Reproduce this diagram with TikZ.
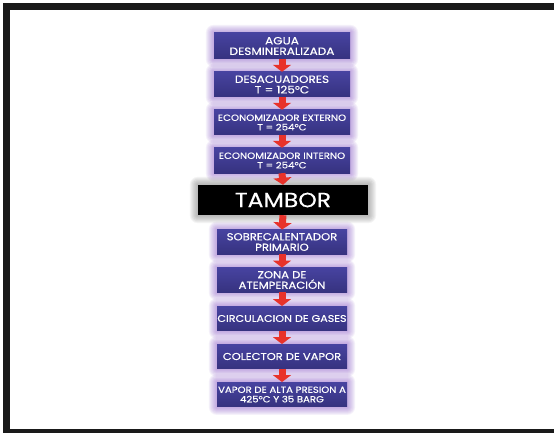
\documentclass[tikz,border=0pt]{standalone}
\usepackage{fontspec}
\setmainfont{Poppins}[FakeStretch=1.15, FakeBold=0.4]
\usetikzlibrary{arrows.meta}

\definecolor{boxblueTop}{HTML}{4743A0}
\definecolor{boxblueBot}{HTML}{36327F}
\definecolor{glowpurple}{HTML}{9466CC}
\definecolor{glowgray}{HTML}{808080}
\definecolor{flowred}{HTML}{E8322A}
\definecolor{framedark}{HTML}{1A1A1A}

\pgfdeclarelayer{framelayer}
\pgfdeclarelayer{glowlayer}
\pgfsetlayers{framelayer,glowlayer,main}

\tikzset{
  stagebox/.style={minimum width=136pt, minimum height=25pt, inner sep=0pt,
    top color=boxblueTop, bottom color=boxblueBot, text=white,
    align=center, font=\fontsize{10.5}{10.5}\selectfont},
  lowbox/.style={stagebox, minimum width=130pt, minimum height=24.5pt},
  drumbox/.style={minimum width=170pt, minimum height=30pt, inner sep=0pt,
    fill=black, text=white, font=\fontsize{20.5}{21}\selectfont},
  flow/.style={draw=flowred, line width=7pt,
    -{Triangle[width=18pt,length=7pt]}},
}

% soft halo around a node
\newcommand{\halo}[2]{%
  \begin{pgfonlayer}{glowlayer}
    \foreach \r in {1,...,8}{%
      \fill[#2, opacity=0.085, rounded corners=\r pt]
        ([shift={(-\r pt,-\r pt)}]#1.south west) rectangle
        ([shift={(\r pt,\r pt)}]#1.north east);
    }
  \end{pgfonlayer}}

\begin{document}
\begin{tikzpicture}[x=1pt,y=-1pt]
  \useasboundingbox (0,0) rectangle (554,433);

  % page frame
  \begin{pgfonlayer}{framelayer}
    \fill[white] (0,0) rectangle (554,433);
    \fill[framedark] (3,3) rectangle (554,433);
    \fill[white] (10,10) rectangle (554,429);
  \end{pgfonlayer}

  % process stages
  \node[stagebox, minimum height=26pt] (agua) at (282,46) {AGUA\\DESMINERALIZADA};
  \node[stagebox] (desac) at (282,84.5) {DESACUADORES\\T = 125°C};
  \node[stagebox, font=\fontsize{8.9}{9.5}\selectfont] (ecoext) at (282,122.5)
    {ECONOMIZADOR EXTERNO\\T = 254°C};
  \node[stagebox, font=\fontsize{8.9}{9.5}\selectfont] (ecoint) at (282,160.5)
    {ECONOMIZADOR INTERNO\\T = 254°C};
  \node[drumbox] (tambor) at (283,200) {TAMBOR};
  \node[lowbox, font=\fontsize{10.1}{10.5}\selectfont] (sobre) at (282,242)
    {SOBRECALENTADOR\\PRIMARIO};
  \node[lowbox, font=\fontsize{10.1}{10.5}\selectfont] (zona) at (282,280)
    {ZONA DE\\ATEMPERACIÓN};
  \node[lowbox, font=\fontsize{9.7}{10.5}\selectfont] (circ) at (282,318.5)
    {CIRCULACION DE GASES};
  \node[lowbox, font=\fontsize{10}{10.5}\selectfont] (colector) at (282,356.5)
    {COLECTOR DE VAPOR};
  \node[lowbox, font=\fontsize{8.8}{9.5}\selectfont] (vapor) at (282,394.5)
    {VAPOR DE ALTA PRESION A\\425°C Y 35 BARG};

  % halos
  \foreach \n in {agua,desac,ecoext,ecoint,sobre,zona,circ,colector,vapor}{%
    \halo{\n}{glowpurple}}
  \halo{tambor}{glowgray}

  % flow arrows
  \draw[flow] (agua.south) -- (desac.north);
  \draw[flow] (desac.south) -- (ecoext.north);
  \draw[flow] (ecoext.south) -- (ecoint.north);
  \draw[flow] (ecoint.south) -- (tambor.north);
  \draw[flow] (tambor.south) -- (sobre.north);
  \draw[flow] (sobre.south) -- (zona.north);
  \draw[flow] (zona.south) -- (circ.north);
  \draw[flow] (circ.south) -- (colector.north);
  \draw[flow] (colector.south) -- (vapor.north);
\end{tikzpicture}
\end{document}
